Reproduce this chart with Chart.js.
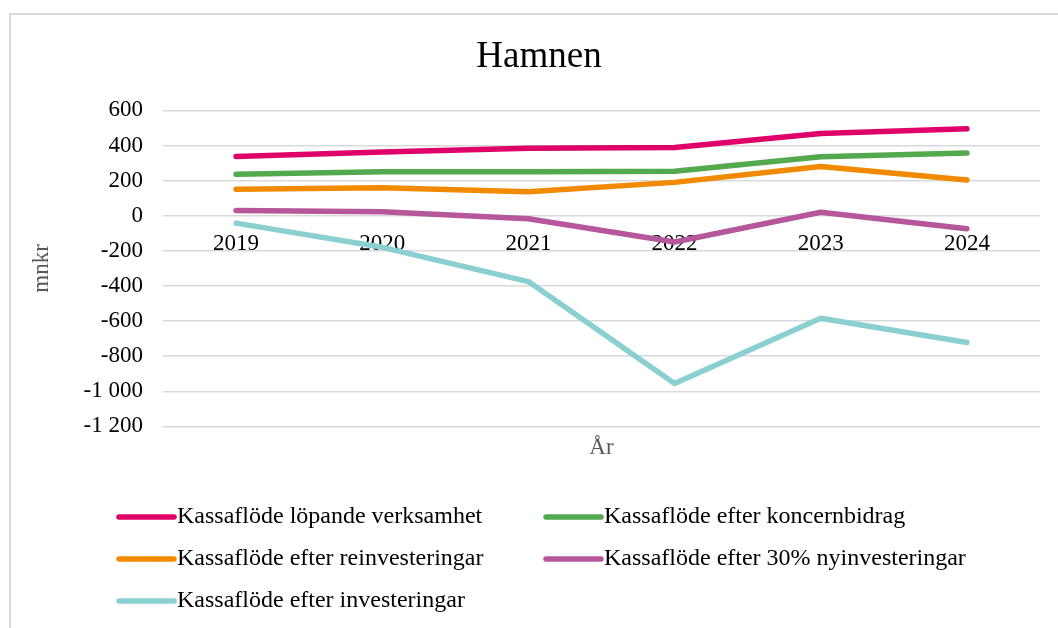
<!DOCTYPE html>
<html lang="sv">
<head>
<meta charset="utf-8">
<title>Hamnen</title>
<script src="https://cdn.jsdelivr.net/npm/chart.js@4.4.1/dist/chart.umd.min.js"></script>
<style>
  html, body { margin: 0; padding: 0; background: #fff; }
  #wrap { position: relative; width: 1058px; height: 628px; overflow: hidden; }
  #frame {
    position: absolute; left: 9px; top: 13px; width: 1100px; height: 700px;
    border-left: 2px solid #d9d9d9; border-top: 2px solid #d9d9d9;
  }
  #chart { position: absolute; left: 0; top: 0; }
</style>
</head>
<body>
<div id="wrap">
  <div id="frame"></div>
  <canvas id="chart" width="1058" height="628"></canvas>
</div>
<script>
const years = ["2019", "2020", "2021", "2022", "2023", "2024"];

const lopande = [338, 363, 385, 389, 468, 495];
const koncernbidrag = [236, 251, 251, 253, 336, 357];
const reinvesteringar = [151, 160, 136, 190, 281, 204];
const nyinvesteringar30 = [30, 23, -17, -150, 20, -74];
const investeringar = [-42, -180, -375, -956, -584, -722];

const seriesNames = [
  "Kassaflöde löpande verksamhet",
  "Kassaflöde efter koncernbidrag",
  "Kassaflöde efter reinvesteringar",
  "Kassaflöde efter 30% nyinvesteringar",
  "Kassaflöde efter investeringar"
];
const seriesColors = ["#e0006a", "#52a94e", "#f28a00", "#b5579a", "#8bd0d1"];
const seriesData = [lopande, koncernbidrag, reinvesteringar, nyinvesteringar30, investeringar];

const serif = "'Liberation Serif', 'Times New Roman', serif";

function formatTick(v) {
  const s = Math.abs(v).toString().replace(/\B(?=(\d{3})+(?!\d))/g, " ");
  return (v < 0 ? "-" : "") + s;
}

// legend in two columns, like the Excel one
const columnLegend = {
  id: "columnLegend",
  afterDraw(chart) {
    const ctx = chart.ctx;
    const colX = [119, 546];
    const rowY = [517, 559, 601];
    ctx.save();
    chart.data.datasets.forEach((ds, i) => {
      const x = colX[i % 2];
      const y = rowY[Math.floor(i / 2)];
      ctx.strokeStyle = ds.borderColor;
      ctx.lineWidth = 5.5;
      ctx.lineCap = "round";
      ctx.beginPath();
      ctx.moveTo(x, y);
      ctx.lineTo(x + 55, y);
      ctx.stroke();
      ctx.fillStyle = "#000";
      ctx.font = "24px " + serif;
      ctx.textBaseline = "middle";
      ctx.textAlign = "left";
      ctx.fillText(ds.label, x + 58, y);
    });
    ctx.restore();
  }
};

new Chart(document.getElementById("chart"), {
  type: "line",
  data: {
    labels: years,
    datasets: seriesData.map((d, i) => ({
      label: seriesNames[i],
      data: d,
      borderColor: seriesColors[i],
      backgroundColor: seriesColors[i],
      borderWidth: 5.5,
      borderCapStyle: "round",
      borderJoinStyle: "round",
      pointRadius: 0,
      tension: 0,
      fill: false
    }))
  },
  options: {
    responsive: false,
    animation: false,
    layout: { padding: { left: 38, right: 18, top: 0, bottom: 166 } },
    plugins: {
      legend: { display: false },
      tooltip: { enabled: false },
      title: {
        display: true,
        text: "Hamnen",
        color: "#000",
        font: { family: serif, size: 37, weight: "normal" },
        padding: { top: 35, bottom: 31 }
      }
    },
    scales: {
      x: {
        type: "category",
        position: { y: 0 },
        offset: true,
        grid: { display: false, drawTicks: false },
        border: { display: false },
        ticks: {
          color: "#000",
          padding: 14,
          maxRotation: 0,
          font: { family: serif, size: 23 }
        }
      },
      x2: {
        type: "category",
        position: "bottom",
        offset: true,
        grid: { display: false, drawTicks: false },
        border: { display: false },
        ticks: { display: false },
        title: {
          display: true,
          text: "År",
          color: "#595959",
          font: { family: serif, size: 23 },
          padding: { top: 8, bottom: 0 }
        }
      },
      y: {
        min: -1200,
        max: 600,
        afterFit(scale) { scale.width = 125; },
        grid: { color: "#d9d9d9", lineWidth: 1.5, drawTicks: false },
        border: { display: false },
        ticks: {
          stepSize: 200,
          padding: 20,
          color: "#000",
          font: { family: serif, size: 23 },
          callback: v => formatTick(v)
        },
        title: {
          display: true,
          text: "mnkr",
          color: "#595959",
          font: { family: serif, size: 23 },
          padding: { top: -10, bottom: 0 }
        }
      }
    }
  },
  plugins: [columnLegend]
});
</script>
</body>
</html>
